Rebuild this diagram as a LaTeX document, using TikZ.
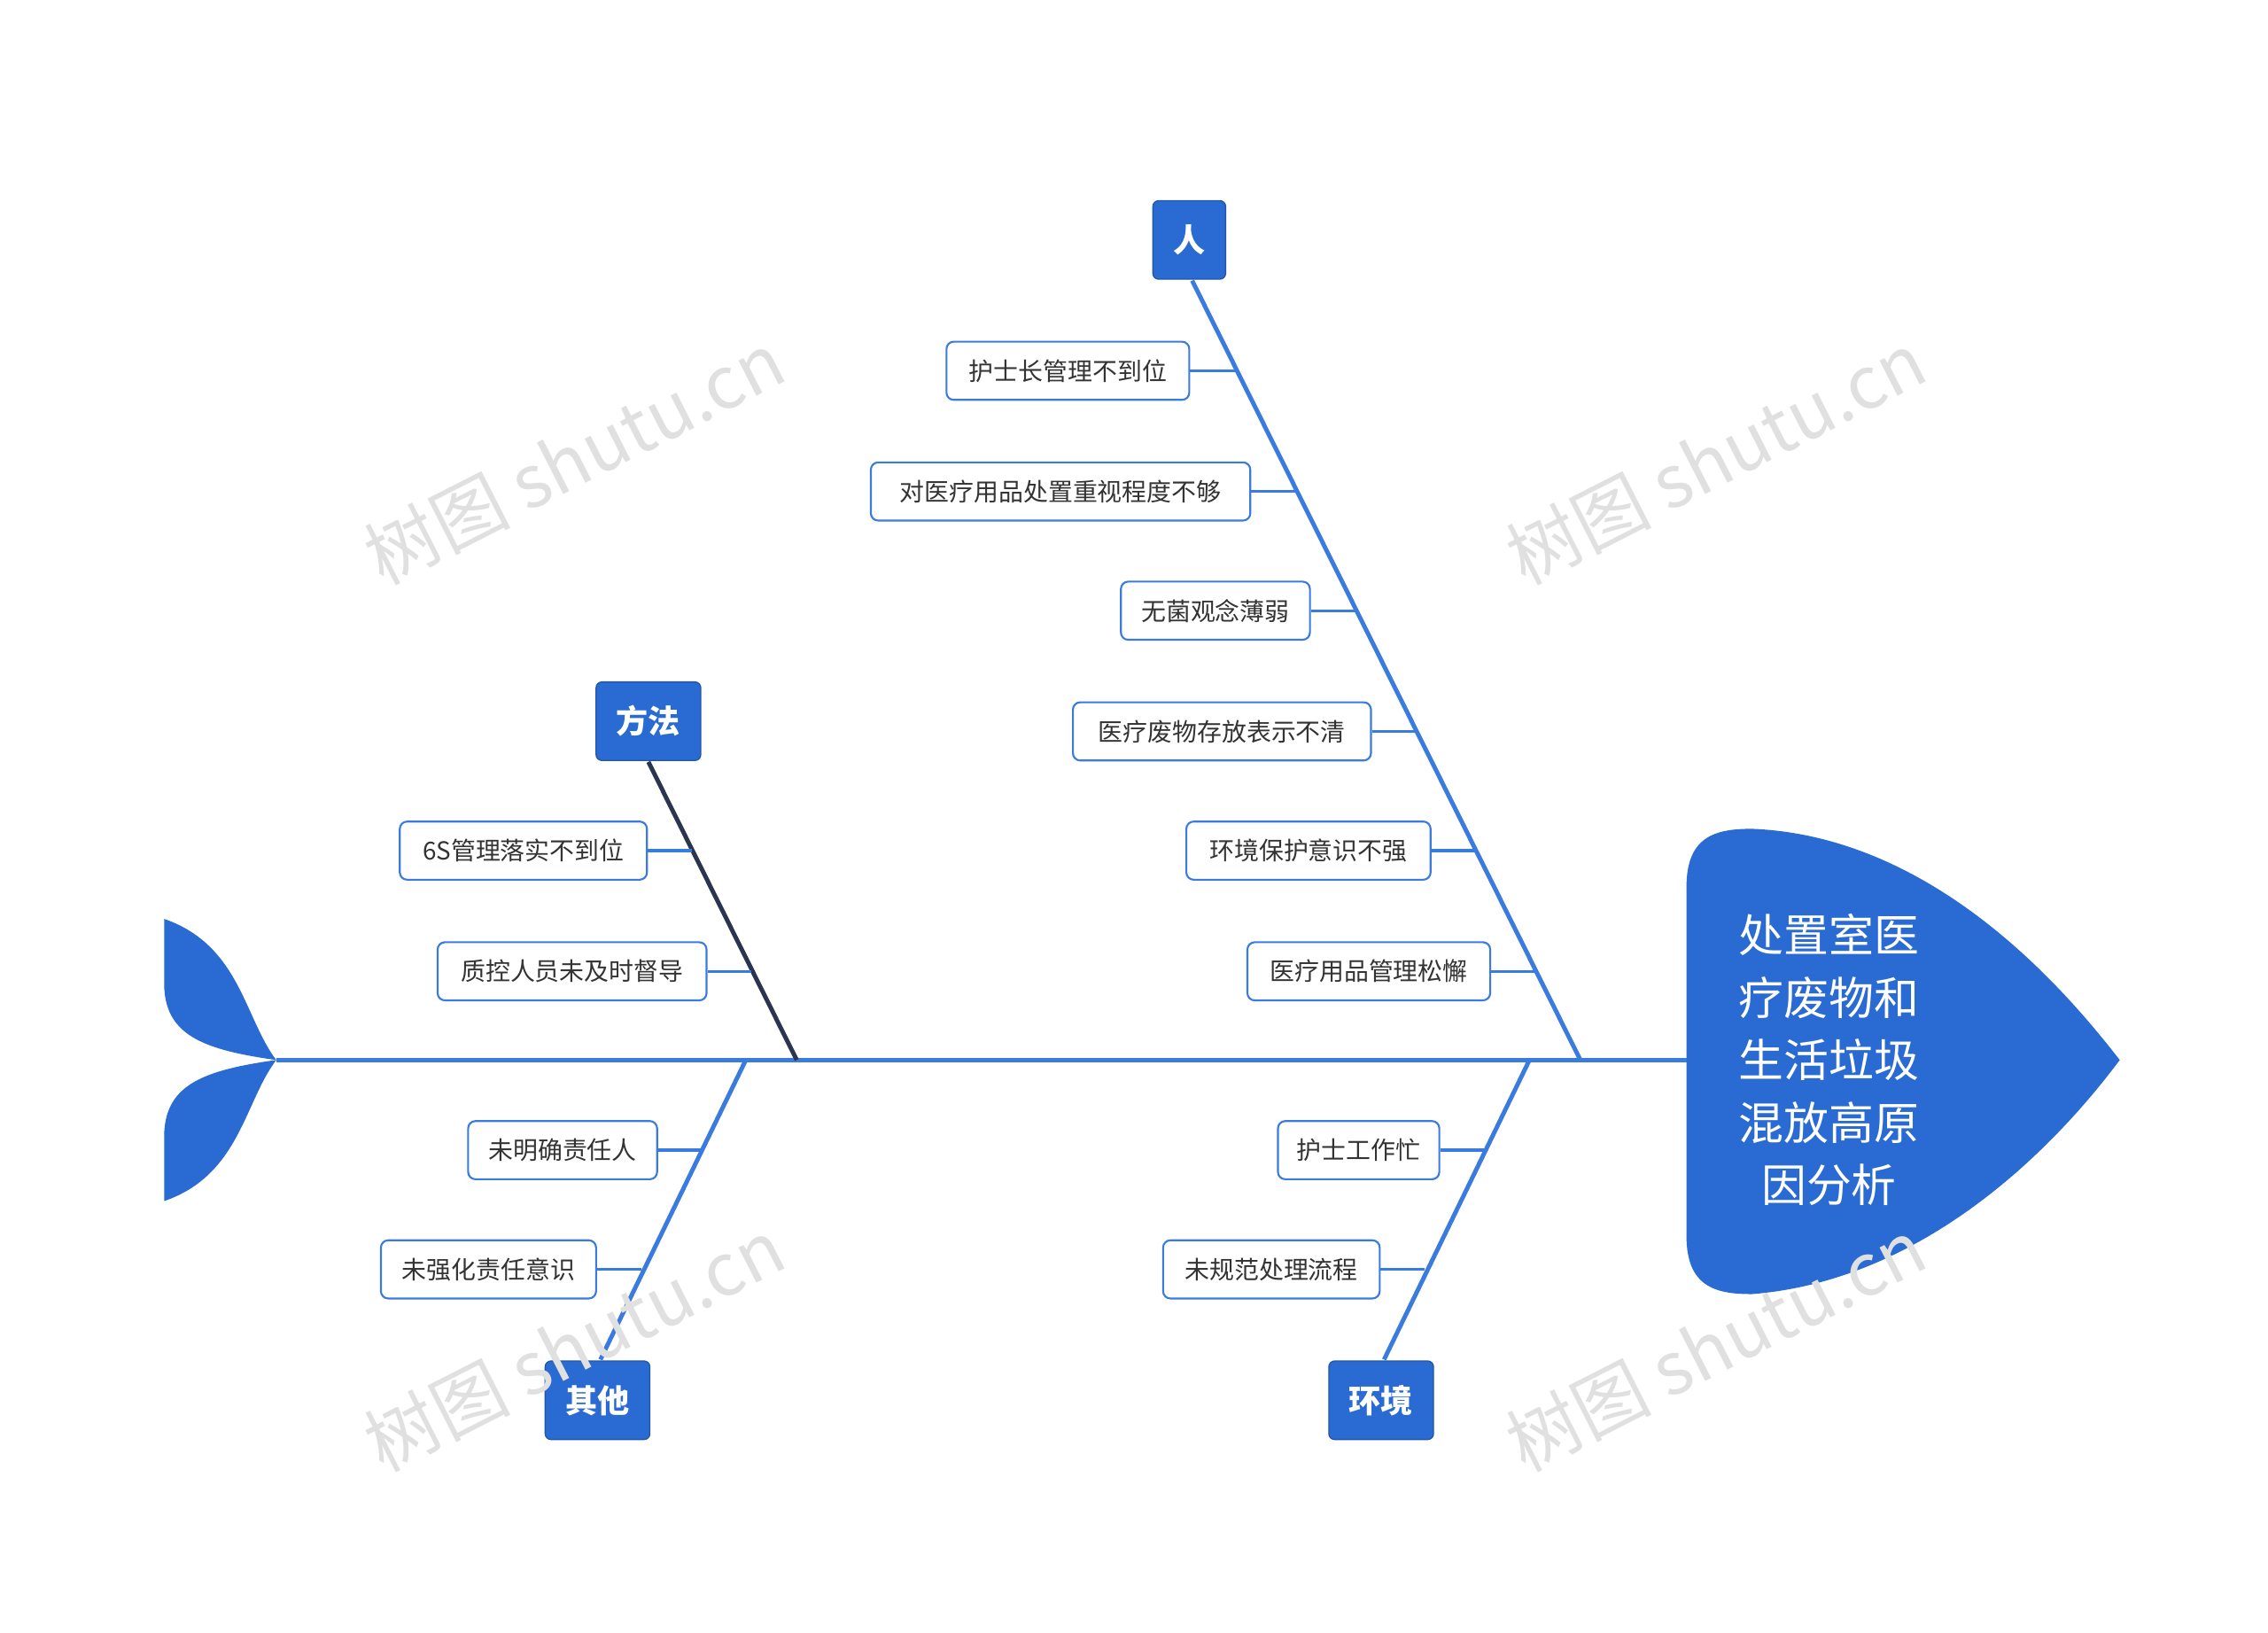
\documentclass[tikz,border=0pt]{standalone}
\usepackage{fontspec}
\newfontfamily\cjk{Noto Sans CJK SC}
\tikzset{
 bone/.style={draw=lineblue,line width=3pt},
 sub/.style={draw=lineblue,line width=1.3pt,fill=white,rounded corners=5pt,inner sep=0pt,minimum height=40pt,text=black!80,font=\cjk\fontsize{17}{20}\selectfont},
 mainbox/.style={fill=boxblue,draw=boxblue!80!black,line width=0.8pt,rounded corners=4pt,text=white,font=\cjk\bfseries\fontsize{22}{26}\selectfont,minimum height=54pt},
 wm/.style={text=black!12,font=\cjk\fontsize{50}{60}\selectfont,rotate=27}
}
\definecolor{lineblue}{HTML}{3A7BE0}
\definecolor{boxblue}{HTML}{2A6BD3}
\definecolor{navy}{HTML}{2B3550}
\begin{document}
\begin{tikzpicture}[x=1pt,y=-1pt]
\useasboundingbox (0,0) rectangle (1560,1123);
% spine
\coordinate (s0) at (190,729); \coordinate (s1) at (1160,729);
\draw[bone] (s0) -- (s1);
% head
\fill[boxblue] (1160,610) .. controls (1160,575) and (1180,570) .. (1205,570) .. controls (1330,575) and (1420,680) .. (1458,729) .. controls (1420,780) and (1330,880) .. (1205,890) .. controls (1180,890) and (1160,885) .. (1160,850) -- cycle;
\node[text=white,font=\cjk\fontsize{31}{43}\selectfont,align=center] (head) at (1258,729) {处置室医\\疗废物和\\生活垃圾\\混放高原\\因分析};
% tail
\fill[boxblue] (113,632) .. controls (165,650) and (168,700) .. (190,729) .. controls (140,722) and (115,712) .. (113,680) -- cycle;
\fill[boxblue] (113,826) .. controls (165,808) and (168,758) .. (190,729) .. controls (140,736) and (115,746) .. (113,778) -- cycle;
% bones
\node[mainbox,minimum width=50pt] (ren) at (818,165) {人};
\coordinate (r0) at (820,193); \coordinate (r1) at (1087,729);
\draw[bone] (r0) -- (r1);
\node[mainbox,minimum width=72pt] (ff) at (446,496) {方法};
\coordinate (f0) at (446,524); \coordinate (f1) at (548,729);
\draw[draw=navy,line width=3pt] (f0) -- (f1);
\node[mainbox,minimum width=72pt] (qt) at (411,963) {其他};
\coordinate (q0) at (513,729); \coordinate (q1) at (413,935);
\draw[bone] (q0) -- (q1);
\node[mainbox,minimum width=72pt] (hj) at (950,963) {环境};
\coordinate (h0) at (1052,729); \coordinate (h1) at (952,935);
\draw[bone] (h0) -- (h1);
% sub items
\foreach \n/\t/\l/\r/\y/\bx in {a/护士长管理不到位/651/818/255/851,
 b/对医疗用品处置重视程度不够/599/860/338/892,
 c/无菌观念薄弱/771/901/420/933,
 d/医疗废物存放表示不清/738/943/503/974,
 e/环境保护意识不强/816/984/585/1015,
 f/医疗用品管理松懈/858/1025/668/1056,
 g/6S管理落实不到位/275/445/585/476,
 h/质控人员未及时督导/301/486/668/517,
 i/未明确责任人/322/452/791/482,
 j/未强化责任意识/262/410/873/441,
 k/护士工作忙/879/990/791/1021,
 l/未规范处理流程/800/949/873/980}{
 \pgfmathsetmacro\w{\r-\l}\pgfmathsetmacro\c{(\r+\l)/2}
 \node[sub,minimum width=\w pt] (\n) at (\c,\y) {\t};
 \coordinate (\n j) at (\bx,\y);
 \draw[lineblue,line width=2pt] (\n.east) -- (\n j);
}
% watermarks
\foreach \p [count=\i] in {(395,315),(1180,315),(395,925),(1180,925)}
 \node[wm] (w\i) at \p {树图 shutu.cn};
\end{tikzpicture}
\end{document}
